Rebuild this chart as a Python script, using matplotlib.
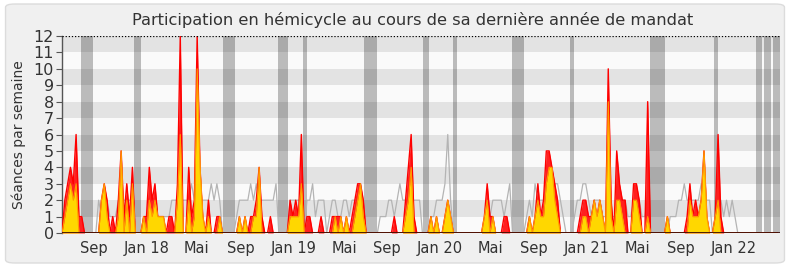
import matplotlib
matplotlib.use("Agg")
import matplotlib.pyplot as plt
from matplotlib.patches import FancyBboxPatch
import numpy as np

# Weekly counts, one value per week from the start of the term (week 0 .. 254)
presences = [
    0, 2, 3, 4, 3, 6, 1, 1, 0, 0, 0, 0, 0, 0, 2, 3, 2, 0, 1, 0,
    2, 5, 1, 3, 1, 4, 0, 0, 0, 1, 1, 4, 2, 3, 1, 1, 1, 0, 1, 1,
    0, 3, 12, 0, 0, 4, 1, 2, 12, 4, 1, 0, 2, 0, 0, 1, 1, 0, 0, 0,
    0, 0, 0, 1, 0, 1, 0, 1, 1, 2, 4, 1, 0, 0, 1, 0, 0, 0, 0, 0,
    0, 2, 1, 2, 1, 6, 0, 1, 1, 0, 0, 0, 1, 0, 0, 0, 1, 1, 1, 1,
    0, 1, 0, 1, 2, 3, 3, 2, 0, 0, 0, 0, 0, 0, 0, 0, 0, 0, 1, 0,
    0, 0, 2, 4, 6, 1, 0, 0, 0, 0, 0, 1, 0, 1, 0, 0, 1, 2, 1, 0,
    0, 0, 0, 0, 0, 0, 0, 0, 0, 0, 1, 3, 1, 1, 0, 0, 0, 1, 1, 0,
    0, 0, 0, 0, 0, 0, 1, 0, 1, 3, 1, 2, 5, 5, 4, 3, 2, 0, 0, 0,
    0, 0, 0, 0, 1, 2, 2, 1, 1, 2, 1, 2, 1, 0, 10, 2, 0, 5, 3, 2,
    2, 0, 0, 3, 3, 2, 0, 0, 8, 0, 0, 0, 0, 0, 0, 1, 0, 0, 0, 0,
    0, 0, 1, 3, 1, 2, 1, 2, 5, 1, 0, 0, 1, 6, 1, 0, 0, 0, 0, 0,
    0, 0, 0, 0, 0, 0, 0, 0, 0, 0, 0, 0, 0, 0, 0,
]
participations = [
    0, 1, 2, 3, 2, 3, 0, 0, 0, 0, 0, 0, 0, 0, 2, 3, 1, 0, 0, 0,
    1, 5, 0, 2, 0, 3, 0, 0, 0, 1, 0, 2, 1, 2, 1, 1, 1, 0, 0, 0,
    0, 2, 6, 0, 0, 2, 0, 1, 10, 4, 1, 0, 1, 0, 0, 0, 1, 0, 0, 0,
    0, 0, 0, 1, 0, 1, 0, 0, 1, 1, 4, 0, 0, 0, 0, 0, 0, 0, 0, 0,
    0, 1, 1, 1, 1, 3, 0, 0, 0, 0, 0, 0, 0, 0, 0, 0, 0, 1, 0, 1,
    0, 1, 0, 0, 1, 2, 3, 1, 0, 0, 0, 0, 0, 0, 0, 0, 0, 0, 0, 0,
    0, 0, 1, 2, 4, 0, 0, 0, 0, 0, 0, 1, 0, 1, 0, 0, 1, 2, 1, 0,
    0, 0, 0, 0, 0, 0, 0, 0, 0, 0, 1, 2, 0, 1, 0, 0, 0, 0, 0, 0,
    0, 0, 0, 0, 0, 0, 1, 0, 1, 2, 1, 1, 3, 4, 4, 2, 1, 0, 0, 0,
    0, 0, 0, 0, 0, 1, 1, 0, 1, 2, 1, 2, 1, 0, 8, 1, 0, 2, 2, 1,
    0, 0, 0, 2, 2, 1, 0, 0, 1, 0, 0, 0, 0, 0, 0, 1, 0, 0, 0, 0,
    0, 0, 0, 2, 1, 1, 1, 2, 5, 1, 0, 0, 1, 2, 0, 0, 0, 0, 0, 0,
    0, 0, 0, 0, 0, 0, 0, 0, 0, 0, 0, 0, 0, 0, 0,
]
mediane = [
    0, 0, 0, 0, 0, 0, 0, 0, 0, 0, 0, 0, 0, 2, 1, 2, 2, 1, 1, 1,
    2, 2, 2, 2, 2, 2, 0, 0, 0, 1, 1, 1, 1, 1, 1, 1, 1, 1, 1, 2,
    2, 2, 2, 2, 2, 2, 3, 2, 2, 2, 2, 2, 2, 3, 2, 3, 2, 0, 0, 0,
    0, 0, 1, 2, 2, 2, 2, 3, 2, 3, 2, 2, 2, 2, 2, 2, 3, 0, 0, 0,
    0, 2, 2, 2, 2, 2, 0, 2, 2, 3, 1, 2, 2, 2, 0, 1, 2, 2, 1, 1,
    2, 2, 1, 2, 2, 2, 3, 1, 0, 0, 0, 0, 0, 1, 1, 1, 2, 2, 1, 2,
    3, 2, 2, 2, 2, 2, 2, 2, 0, 0, 0, 1, 1, 2, 2, 2, 3, 6, 2, 0,
    0, 0, 0, 0, 0, 0, 0, 0, 0, 0, 0, 0, 1, 2, 2, 2, 2, 1, 2, 3,
    0, 0, 0, 0, 0, 1, 2, 1, 3, 2, 2, 2, 3, 3, 2, 3, 3, 2, 1, 0,
    0, 0, 1, 2, 2, 3, 3, 2, 1, 2, 2, 2, 1, 1, 1, 1, 1, 1, 2, 2,
    2, 1, 1, 2, 2, 2, 1, 1, 2, 0, 0, 0, 0, 0, 0, 0, 1, 1, 1, 2,
    2, 3, 2, 2, 2, 2, 2, 3, 2, 2, 2, 0, 0, 2, 2, 1, 2, 1, 2, 1,
    0, 0, 0, 0, 0, 0, 0, 0, 0, 0, 0, 0, 0, 0, 0,
]

# Parliamentary recess periods, as (first week, last week) on the same index
vacances = [
    (6.7, 11.0), (25.6, 28.0), (57.2, 61.4), (76.7, 80.2), (85.6, 87.0),
    (107.2, 111.8), (128.2, 130.3), (138.8, 140.2), (159.7, 164.0),
    (180.3, 181.8), (208.7, 214.1), (231.5, 232.9), (246.4, 248.5),
    (249.2, 251.7), (252.4, 254.9),
]

# Month labels along the time axis
mois_pos = [11.4, 30.1, 47.9, 63.4, 82.2, 100.3, 115.5, 134.2, 152.3,
            167.7, 186.5, 204.5, 219.9, 238.7]
mois_lab = ["Sep", "Jan 18", "Mai", "Sep", "Jan 19", "Mai", "Sep", "Jan 20",
            "Mai", "Sep", "Jan 21", "Mai", "Sep", "Jan 22"]

semaines = np.arange(len(presences))

fig = plt.figure(figsize=(7.9, 2.67), dpi=100)
fig.patch.set_facecolor("white")
fig.patches.append(FancyBboxPatch((0.007, 0.015), 0.986, 0.97,
                                  boxstyle="round,pad=0,rounding_size=0.012",
                                  transform=fig.transFigure,
                                  facecolor="#f0f0f0", edgecolor="#dcdcdc",
                                  linewidth=1.0, zorder=-10))

ax = fig.add_axes([0.0785, 0.1273, 0.9085, 0.7379])
ax.set_facecolor("#fafafa")
ax.set_xlim(0, 254.9)
ax.set_ylim(0, 12)

# Horizontal stripes on every other unit
for k in range(1, 12, 2):
    ax.axhspan(k, k + 1, color="#e3e3e3", lw=0, zorder=0)

for a, b in vacances:
    ax.axvspan(a, b, color="black", alpha=0.25, lw=0, zorder=1)

ax.plot(semaines, mediane, color="#b4b4b4", lw=0.9, zorder=2)
ax.fill_between(semaines, 0, presences, color="#ff2020", lw=0, zorder=3)
ax.plot(semaines, presences, color="#ff0000", lw=1.0, zorder=3)
ax.fill_between(semaines, 0, participations, color="#ffd700", lw=0, zorder=4)
ax.plot(semaines, participations, color="#ff9a00", lw=0.8, zorder=4)

ax.axhline(12, color="black", lw=0.9, ls=(0, (1, 1.5)), zorder=5)
ax.axhline(0, color="#300000", lw=1.2, zorder=5)

for s in ["top", "right", "bottom"]:
    ax.spines[s].set_visible(False)
ax.spines["left"].set_color("#555555")
ax.spines["left"].set_linewidth(1.0)

ax.set_yticks(range(0, 13))
ax.tick_params(axis="y", length=4, width=0.8, color="#555555",
               labelsize=11.5, labelcolor="#333333", pad=2)
ax.set_xticks(mois_pos)
ax.set_xticklabels(mois_lab)
ax.tick_params(axis="x", length=0, labelsize=10.5, labelcolor="#333333", pad=6)

ax.set_ylabel("Séances par semaine", fontsize=10, color="#333333", labelpad=5)
fig.text(0.522, 0.925, "Participation en hémicycle au cours de sa dernière année de mandat",
         ha="center", va="center", fontsize=11.7, color="#333333")

fig.savefig("out.png", dpi=100, facecolor=fig.get_facecolor())
